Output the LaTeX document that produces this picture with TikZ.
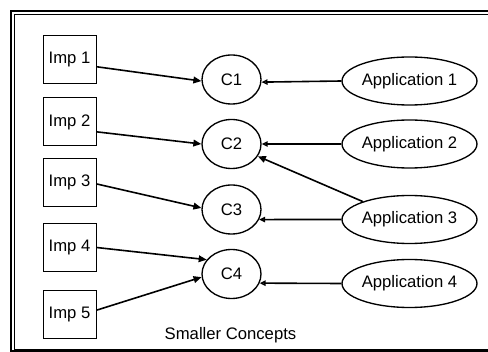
\documentclass[tikz,border=0pt]{standalone}
\usepackage{fontspec}
\setmainfont{Liberation Sans}
\usetikzlibrary{arrows.meta,shapes.geometric}

\tikzset{
  impbox/.style={draw, line width=0.75pt, rectangle, inner sep=0pt,
    minimum width=39.75pt, minimum height=36pt, font=\fontsize{12.5}{15}\selectfont},
  concept/.style={draw, line width=1pt, ellipse, inner sep=0pt,
    minimum width=44.25pt, minimum height=36.75pt, font=\fontsize{12.5}{15}\selectfont},
  appnode/.style={draw, line width=1pt, ellipse, inner sep=0pt,
    minimum width=86.25pt, minimum height=36pt, font=\fontsize{12.5}{15}\selectfont},
  implink/.style={line width=1.2pt, -{Triangle[length=6pt,width=5pt]}},
  applink/.style={line width=1.2pt, -{Triangle[open,length=4.5pt,width=4pt]}},
  crosslink/.style={line width=1.2pt, -{Triangle[length=6pt,width=5pt]}},
  caption/.style={font=\fontsize{12.5}{15}\selectfont, anchor=base}
}

\begin{document}
\begin{tikzpicture}[x=0.75pt,y=-0.75pt]
  \useasboundingbox (0,0) rectangle (488,352);
  \clip (0,0) rectangle (488,352);

  % double frame running off the right and bottom edges
  \draw[line width=1.6pt] (11,11) rectangle (520,351.5);
  \draw[line width=0.75pt] (14.5,14.5) rectangle (520,349);

  % implementations
  \node[impbox] (imp1) at (69.5,60)    {Imp 1};
  \node[impbox] (imp2) at (69.5,122)   {Imp 2};
  \node[impbox] (imp3) at (69.5,182.5) {Imp 3};
  \node[impbox] (imp4) at (69.5,247.5) {Imp 4};
  \node[impbox] (imp5) at (69.5,314)   {Imp 5};

  % concepts
  \node[concept] (c1) at (231.5,79.5)  {C1};
  \node[concept] (c2) at (231.5,144)   {C2};
  \node[concept] (c3) at (231.5,209.5) {C3};
  \node[concept] (c4) at (231.5,274)   {C4};

  % applications
  \node[appnode] (app1) at (409.5,81)    {Application 1};
  \node[appnode] (app2) at (409.5,144)   {Application 2};
  \node[appnode] (app3) at (409.5,219.5) {Application 3};
  \node[appnode] (app4) at (409.5,283.5) {Application 4};

  \node[caption] (label) at (230.5,339) {Smaller Concepts};

  % implementation -> concept
  \draw[implink] (imp1.-14.8) -- (c1.183);
  \draw[implink] (imp2.-20.7) -- (c2.180);
  \draw[implink] (imp3.-3)    -- (c3.177);
  \draw[implink] (imp4.0)     -- (c4.150);
  \draw[implink] (imp5.8.6)   -- (c4.186);

  % application -> concept
  \draw[applink] (app1.west) -- (c1.-5);
  \draw[applink] (app2.west) -- (c2.0);
  \draw[applink] (app3.west) -- (c3.-20.4);
  \draw[applink] (app4.west) -- (c4.-18.2);
  \draw[crosslink] (app3.159.7) -- (c2.-25);
\end{tikzpicture}
\end{document}
